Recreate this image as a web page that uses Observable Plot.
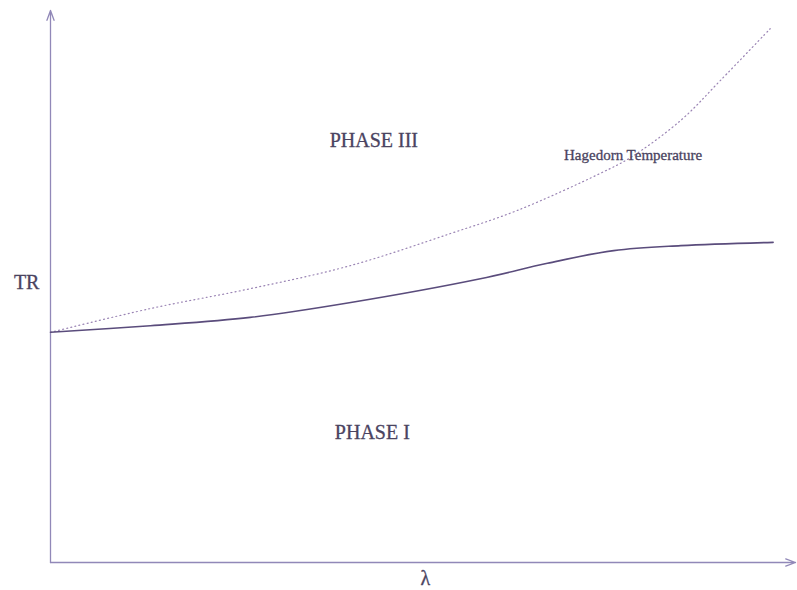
<!DOCTYPE html>
<html>
<head>
<meta charset="utf-8">
<script src="https://cdn.jsdelivr.net/npm/d3@7"></script>
<script src="https://cdn.jsdelivr.net/npm/@observablehq/plot@0.6"></script>
<style>
  html, body { margin: 0; padding: 0; background: #ffffff; }
  #chart svg { display: block; }
</style>
</head>
<body>
<div id="chart"></div>
<script>
// λ (x) and T (y) in arbitrary units, domain 0..10
const xDomain = [0, 10];
const yDomain = [0, 10];

// Hagedorn temperature curve (dotted)
const hagedornX = [0, 1.34, 2.68, 4.03, 5.37, 6.27, 7.38, 7.79, 8.46, 8.99, 9.66];
const hagedornY = [4.17, 4.60, 4.96, 5.38, 5.96, 6.38, 7.05, 7.34, 8.01, 8.73, 9.67];

// Phase boundary TR (solid)
const boundaryX = [0, 1.34, 2.68, 4.03, 5.77, 6.67, 7.56, 8.46, 9.70];
const boundaryY = [4.17, 4.29, 4.44, 4.71, 5.14, 5.42, 5.65, 5.74, 5.80];

// Labels
const labelText = ["PHASE III", "Hagedorn Temperature", "PHASE I"];
const labelX = [4.34, 7.82, 4.32];
const labelY = [7.64, 7.37, 2.36];
const labelSize = [20, 15, 20];

const axisLabels = ["TR", "λ"];
const axisLabelX = [-0.32, 5.03];
const axisLabelY = [5.07, -0.30];

const hagedorn = hagedornX.map((x, i) => ({x, y: hagedornY[i]}));
const boundary = boundaryX.map((x, i) => ({x, y: boundaryY[i]}));
const labels = labelText.map((t, i) => ({t, x: labelX[i], y: labelY[i], s: labelSize[i]}));
const axLabels = axisLabels.map((t, i) => ({t, x: axisLabelX[i], y: axisLabelY[i]}));
const axes = [
  {x1: xDomain[0], y1: yDomain[0], x2: xDomain[1], y2: yDomain[0]},
  {x1: xDomain[0], y1: yDomain[0], x2: xDomain[0], y2: yDomain[1]}
];

const textColor = "#4a4360";
const font = "Liberation Serif, Times New Roman, serif";

const chart = Plot.plot({
  width: 797,
  height: 590,
  marginLeft: 50,
  marginRight: 2,
  marginTop: 10,
  marginBottom: 28,
  x: {domain: xDomain, axis: null},
  y: {domain: yDomain, axis: null},
  style: {fontFamily: font, background: "#ffffff"},
  marks: [
    Plot.arrow(axes, {x1: "x1", y1: "y1", x2: "x2", y2: "y2", stroke: "#9188b8", strokeWidth: 1.3, headLength: 12, headAngle: 40}),
    Plot.line(hagedorn, {x: "x", y: "y", curve: "catmull-rom", stroke: "#9a84b4", strokeWidth: 1.2, strokeDasharray: "1,3.2"}),
    Plot.line(boundary, {x: "x", y: "y", curve: "catmull-rom", stroke: "#5a4c7c", strokeWidth: 1.6}),
    Plot.text(labels.filter(d => d.s === 20), {x: "x", y: "y", text: "t", fontSize: 20, fill: textColor, fontFamily: font, stroke: textColor, strokeWidth: 0.3}),
    Plot.text(labels.filter(d => d.s === 15), {x: "x", y: "y", text: "t", fontSize: 15, fill: textColor, fontFamily: font, stroke: textColor, strokeWidth: 0.3}),
    Plot.text(axLabels, {x: "x", y: "y", text: "t", fontSize: 20, fill: textColor, fontFamily: font, stroke: textColor, strokeWidth: 0.3})
  ]
});
document.getElementById("chart").appendChild(chart);
</script>
</body>
</html>
